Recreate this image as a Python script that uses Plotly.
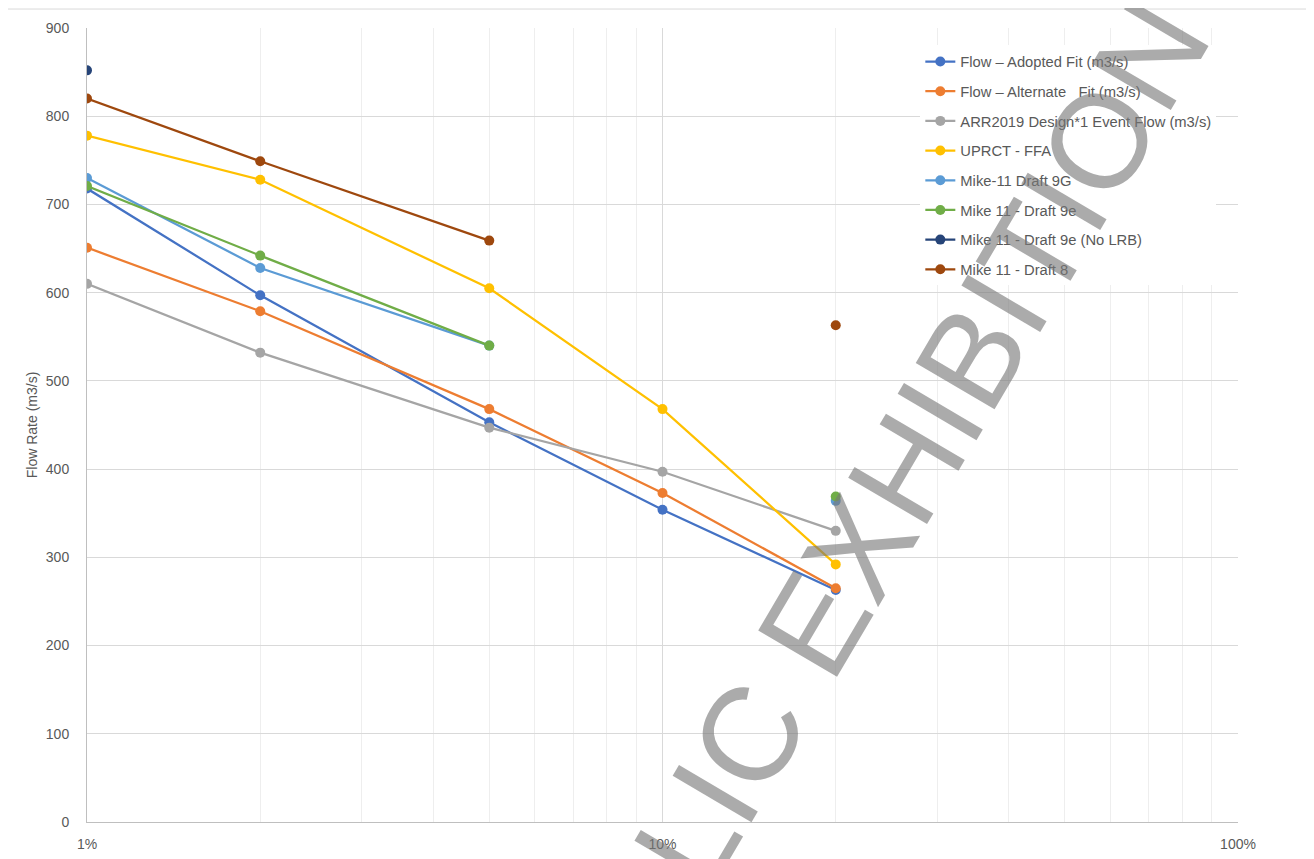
import plotly.graph_objects as go

# ---- data ----
aep = [0.01, 0.02, 0.05, 0.10, 0.20]

adopted = [718, 597, 453, 354, 263]
alternate = [651, 579, 468, 373, 265]
arr2019 = [610, 532, 447, 397, 330]
uprct = [778, 728, 605, 468, 292]
mike9g = [730, 628, 540, None, 364]
mike9e = [721, 642, 540, None, 369]
mike9e_nolrb = [852, None, None, None, None]
mike8 = [820, 749, 659, None, 563]

series_names = [
    "Flow \u2013 Adopted Fit (m3/s)",
    "Flow \u2013 Alternate   Fit (m3/s)",
    "ARR2019 Design*1 Event Flow (m3/s)",
    "UPRCT - FFA",
    "Mike-11 Draft 9G",
    "Mike 11 - Draft 9e",
    "Mike 11 - Draft 9e (No LRB)",
    "Mike 11 - Draft 8",
]
series_values = [adopted, alternate, arr2019, uprct, mike9g, mike9e, mike9e_nolrb, mike8]
series_colors = ["#4472C4", "#ED7D31", "#A5A5A5", "#FFC000", "#5B9BD5", "#70AD47", "#264478", "#9E480E"]

major_ticks = [0.01, 0.1, 1.0]
major_labels = ["1%", "10%", "100%"]
minor_ticks = [0.02, 0.03, 0.04, 0.05, 0.06, 0.07, 0.08, 0.09,
               0.2, 0.3, 0.4, 0.5, 0.6, 0.7, 0.8, 0.9]

FONT = "Liberation Sans"

fig = go.Figure()
for i, (name, vals, col) in enumerate(zip(series_names, series_values, series_colors)):
    fig.add_trace(go.Scatter(
        x=aep, y=vals, name=name, mode="lines+markers",
        line=dict(color=col, width=2.25),
        marker=dict(color=col, size=10),
        connectgaps=False, legendgroup=f"g{i}",
    ))

fig.update_layout(
    width=1306, height=851,
    margin=dict(l=79, r=76, t=20, b=37, autoexpand=False),
    paper_bgcolor="white", plot_bgcolor="white",
    font=dict(family=FONT, color="#595959", size=14),
    showlegend=True,
    legend=dict(
        x=0.724, y=0.978, xanchor="left", yanchor="top",
        bgcolor="white", font=dict(size=14.75, color="#595959", family=FONT),
        tracegroupgap=7.5, itemwidth=30,
    ),
    xaxis=dict(
        type="log", range=[-2, 0], automargin=False,
        tickmode="array", tickvals=major_ticks, ticktext=major_labels,
        showgrid=True, gridcolor="#D9D9D9", gridwidth=1,
        showline=True, linecolor="#BFBFBF", linewidth=1,
        ticks="", ticklabelstandoff=9,
        tickfont=dict(size=14, color="#595959"),
        minor=dict(tickmode="array", tickvals=minor_ticks, showgrid=True,
                   gridcolor="#EEEEEE", gridwidth=1, ticks=""),
        zeroline=False,
    ),
    yaxis=dict(
        range=[0, 900], dtick=100, automargin=False,
        showgrid=True, gridcolor="#D9D9D9", gridwidth=1,
        showline=True, linecolor="#BFBFBF", linewidth=1,
        ticks="", ticklabelstandoff=14,
        tickfont=dict(size=14, color="#595959"),
        title=dict(text="Flow Rate (m3/s)", font=dict(size=14, color="#595959"), standoff=4),
        zeroline=False,
    ),
)

# chart-area border (top and left)
fig.add_shape(type="line", xref="paper", yref="paper", x0=-0.0695, x1=1.07, y0=1.0239, y1=1.0239,
              line=dict(color="#D9D9D9", width=1))
fig.add_shape(type="line", xref="paper", yref="paper", x0=-0.0695, x1=-0.0695, y0=-0.05, y1=1.0239,
              line=dict(color="#D9D9D9", width=1))

# watermark
fig.add_annotation(
    text="PUBLIC EXHIBITION", xref="paper", yref="paper",
    x=0.6645, y=0.329, xanchor="center", yanchor="middle",
    textangle=-59.5, showarrow=False,
    font=dict(family=FONT, size=133, color="rgba(120,120,120,0.62)"),
)

fig.write_html("out.html")
